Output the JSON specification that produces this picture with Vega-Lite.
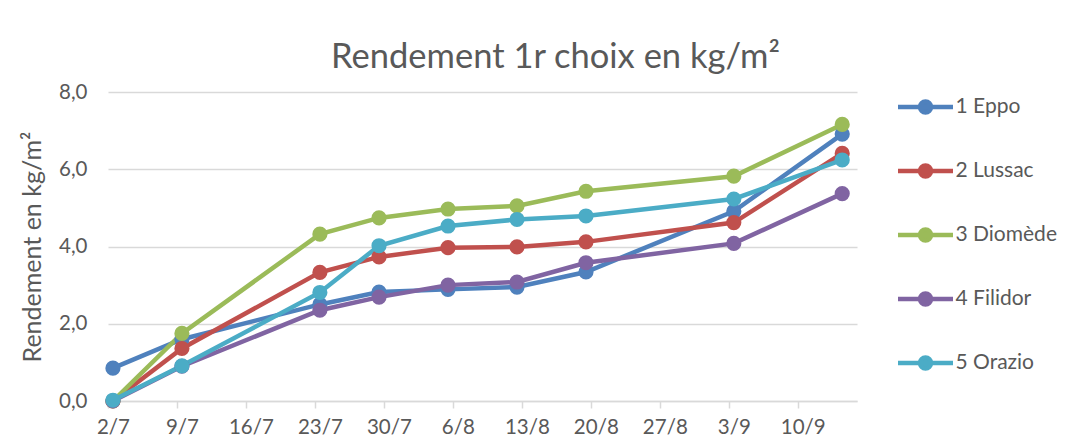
{
  "$schema": "https://vega.github.io/schema/vega-lite/v6.json",
  "autosize": {"type": "none"},
  "width": 749,
  "height": 309,
  "padding": {"left": 108, "top": 92, "right": 230, "bottom": 41},
  "background": "white",
  "title": {
    "text": "Rendement  1r choix en kg/m²",
    "fontSize": 34.5,
    "font": "Lato",
    "fontWeight": "normal",
    "color": "#595959",
    "anchor": "middle",
    "frame": "group",
    "dx": 73,
    "dy": 47,
    "offset": 22,
    "baseline": "alphabetic"
  },
  "data": {
    "values": [
      {"serie": "1 Eppo", "date": "2018-07-02", "rendement": 0.85},
      {"serie": "1 Eppo", "date": "2018-07-09", "rendement": 1.6},
      {"serie": "1 Eppo", "date": "2018-07-23", "rendement": 2.5},
      {"serie": "1 Eppo", "date": "2018-07-29", "rendement": 2.82},
      {"serie": "1 Eppo", "date": "2018-08-05", "rendement": 2.89},
      {"serie": "1 Eppo", "date": "2018-08-12", "rendement": 2.95},
      {"serie": "1 Eppo", "date": "2018-08-19", "rendement": 3.34},
      {"serie": "1 Eppo", "date": "2018-09-03", "rendement": 4.91},
      {"serie": "1 Eppo", "date": "2018-09-14", "rendement": 6.91},
      {"serie": "2 Lussac", "date": "2018-07-02", "rendement": 0.0},
      {"serie": "2 Lussac", "date": "2018-07-09", "rendement": 1.36},
      {"serie": "2 Lussac", "date": "2018-07-23", "rendement": 3.33},
      {"serie": "2 Lussac", "date": "2018-07-29", "rendement": 3.73},
      {"serie": "2 Lussac", "date": "2018-08-05", "rendement": 3.97},
      {"serie": "2 Lussac", "date": "2018-08-12", "rendement": 3.99},
      {"serie": "2 Lussac", "date": "2018-08-19", "rendement": 4.12},
      {"serie": "2 Lussac", "date": "2018-09-03", "rendement": 4.62},
      {"serie": "2 Lussac", "date": "2018-09-14", "rendement": 6.41},
      {"serie": "3 Diomède", "date": "2018-07-02", "rendement": 0.0},
      {"serie": "3 Diomède", "date": "2018-07-09", "rendement": 1.75},
      {"serie": "3 Diomède", "date": "2018-07-23", "rendement": 4.32},
      {"serie": "3 Diomède", "date": "2018-07-29", "rendement": 4.74},
      {"serie": "3 Diomède", "date": "2018-08-05", "rendement": 4.97},
      {"serie": "3 Diomède", "date": "2018-08-12", "rendement": 5.05},
      {"serie": "3 Diomède", "date": "2018-08-19", "rendement": 5.43},
      {"serie": "3 Diomède", "date": "2018-09-03", "rendement": 5.82},
      {"serie": "3 Diomède", "date": "2018-09-14", "rendement": 7.16},
      {"serie": "4 Filidor", "date": "2018-07-02", "rendement": 0.0},
      {"serie": "4 Filidor", "date": "2018-07-09", "rendement": 0.9},
      {"serie": "4 Filidor", "date": "2018-07-23", "rendement": 2.35},
      {"serie": "4 Filidor", "date": "2018-07-29", "rendement": 2.69},
      {"serie": "4 Filidor", "date": "2018-08-05", "rendement": 3.0},
      {"serie": "4 Filidor", "date": "2018-08-12", "rendement": 3.08},
      {"serie": "4 Filidor", "date": "2018-08-19", "rendement": 3.58},
      {"serie": "4 Filidor", "date": "2018-09-03", "rendement": 4.08},
      {"serie": "4 Filidor", "date": "2018-09-14", "rendement": 5.37},
      {"serie": "5 Orazio", "date": "2018-07-02", "rendement": 0.02},
      {"serie": "5 Orazio", "date": "2018-07-09", "rendement": 0.91},
      {"serie": "5 Orazio", "date": "2018-07-23", "rendement": 2.81},
      {"serie": "5 Orazio", "date": "2018-07-29", "rendement": 4.02},
      {"serie": "5 Orazio", "date": "2018-08-05", "rendement": 4.53},
      {"serie": "5 Orazio", "date": "2018-08-12", "rendement": 4.7},
      {"serie": "5 Orazio", "date": "2018-08-19", "rendement": 4.79},
      {"serie": "5 Orazio", "date": "2018-09-03", "rendement": 5.23},
      {"serie": "5 Orazio", "date": "2018-09-14", "rendement": 6.24}
    ]
  },
  "mark": {
    "type": "line",
    "strokeWidth": 4.5,
    "point": {"filled": true, "size": 230, "opacity": 1}
  },
  "encoding": {
    "x": {
      "field": "date",
      "type": "temporal",
      "scale": {
        "type": "utc",
        "domain": [
          {"year": 2018, "month": 7, "date": 1, "hours": 12, "utc": true},
          {"year": 2018, "month": 9, "date": 15, "hours": 12, "utc": true}
        ]
      },
      "axis": {
        "title": null,
        "values": [
          {"year": 2018, "month": 7, "date": 2, "utc": true},
          {"year": 2018, "month": 7, "date": 9, "utc": true},
          {"year": 2018, "month": 7, "date": 16, "utc": true},
          {"year": 2018, "month": 7, "date": 23, "utc": true},
          {"year": 2018, "month": 7, "date": 30, "utc": true},
          {"year": 2018, "month": 8, "date": 6, "utc": true},
          {"year": 2018, "month": 8, "date": 13, "utc": true},
          {"year": 2018, "month": 8, "date": 20, "utc": true},
          {"year": 2018, "month": 8, "date": 27, "utc": true},
          {"year": 2018, "month": 9, "date": 3, "utc": true},
          {"year": 2018, "month": 9, "date": 10, "utc": true}
        ],
        "labelExpr": "utcFormat(datum.value, '%-d/%-m')",
        "grid": false,
        "domainColor": "#d9d9d9",
        "domainWidth": 1.7,
        "tickColor": "#d9d9d9",
        "tickWidth": 1.5,
        "tickSize": 7,
        "tickOffset": -5,
        "labelOffset": 5,
        "labelPadding": 9,
        "labelFontSize": 20.5,
        "labelColor": "#595959",
        "labelFont": "Lato",
        "labelOverlap": false,
        "labelFlush": false
      }
    },
    "y": {
      "field": "rendement",
      "type": "quantitative",
      "scale": {"domain": [0, 8], "nice": false},
      "axis": {
        "title": "Rendement en kg/m²",
        "titleFontSize": 25,
        "titleFont": "Lato",
        "titleFontWeight": "normal",
        "titleColor": "#595959",
        "titlePadding": 13,
        "values": [0, 2, 4, 6, 8],
        "labelExpr": "replace(format(datum.value, '.1f'), '.', ',')",
        "labelFontSize": 20.5,
        "labelFont": "Lato",
        "labelColor": "#595959",
        "labelPadding": 21,
        "ticks": false,
        "domain": false,
        "grid": true,
        "gridColor": "#d9d9d9",
        "gridWidth": 1.7
      }
    },
    "color": {
      "field": "serie",
      "type": "nominal",
      "scale": {
        "domain": ["1 Eppo", "2 Lussac", "3 Diomède", "4 Filidor", "5 Orazio"],
        "range": ["#4F81BD", "#C0504D", "#9BBB59", "#8064A2", "#4BACC6"]
      },
      "legend": {
        "title": null,
        "orient": "none",
        "legendX": 787.5,
        "legendY": -15,
        "padding": 0,
        "symbolType": "M-1,0L1,0M-0.2,0A0.2,0.2,0,1,1,0.2,0A0.2,0.2,0,1,1,-0.2,0Z",
        "symbolSize": 3025,
        "symbolStrokeWidth": 4.5,
        "rowPadding": 19,
        "labelOffset": 0,
        "labelFontSize": 21,
        "labelFont": "Lato",
        "labelColor": "#595959",
        "encode": {
          "symbols": {
            "update": {
              "fill": {"scale": "color", "field": "value"},
              "stroke": {"scale": "color", "field": "value"},
              "fillOpacity": {"value": 1},
              "opacity": {"value": 1}
            }
          }
        }
      }
    }
  },
  "config": {
    "view": {"stroke": null},
    "font": "Lato"
  }
}
